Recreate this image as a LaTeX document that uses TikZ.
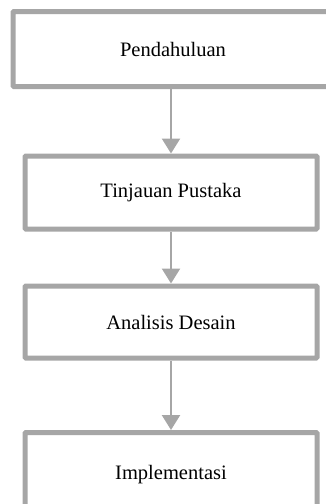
\documentclass[tikz,border=0pt]{standalone}
\usepackage{fontspec}
\setmainfont{Liberation Serif}
\usetikzlibrary{arrows.meta}
\definecolor{boxgray}{HTML}{A6A6A6}
\begin{document}
\begin{tikzpicture}[x=1pt,y=-1pt,
  stepbox/.style={draw=boxgray, line width=5pt, rounded corners=1pt, fill=white,
    inner sep=0pt, font=\fontsize{20.5}{24}\selectfont, text=black},
  flow/.style={draw=boxgray, line width=2.5pt,
    -{Triangle[width=18pt,length=15pt,color=boxgray]}}]
\useasboundingbox (0,0) rectangle (326,504);
\clip (0,0) rectangle (326,504);
\node[stepbox, minimum width=320pt, minimum height=75pt] (b1) at (173,49) {Pendahuluan};
\node[stepbox, minimum width=292pt, minimum height=73pt] (b2) at (171,192.5) {Tinjauan Pustaka};
\node[stepbox, minimum width=292pt, minimum height=72pt] (b3) at (171,322) {Analisis Desain};
\node[stepbox, minimum width=292pt, minimum height=85pt] (b4) at (171,475) {\raisebox{6pt}{Implementasi}};
\draw[flow] (b1.south -| b2.north) -- (b2.north);
\draw[flow] (b2.south) -- (b3.north);
\draw[flow] (b3.south) -- (b4.north);
\end{tikzpicture}
\end{document}
